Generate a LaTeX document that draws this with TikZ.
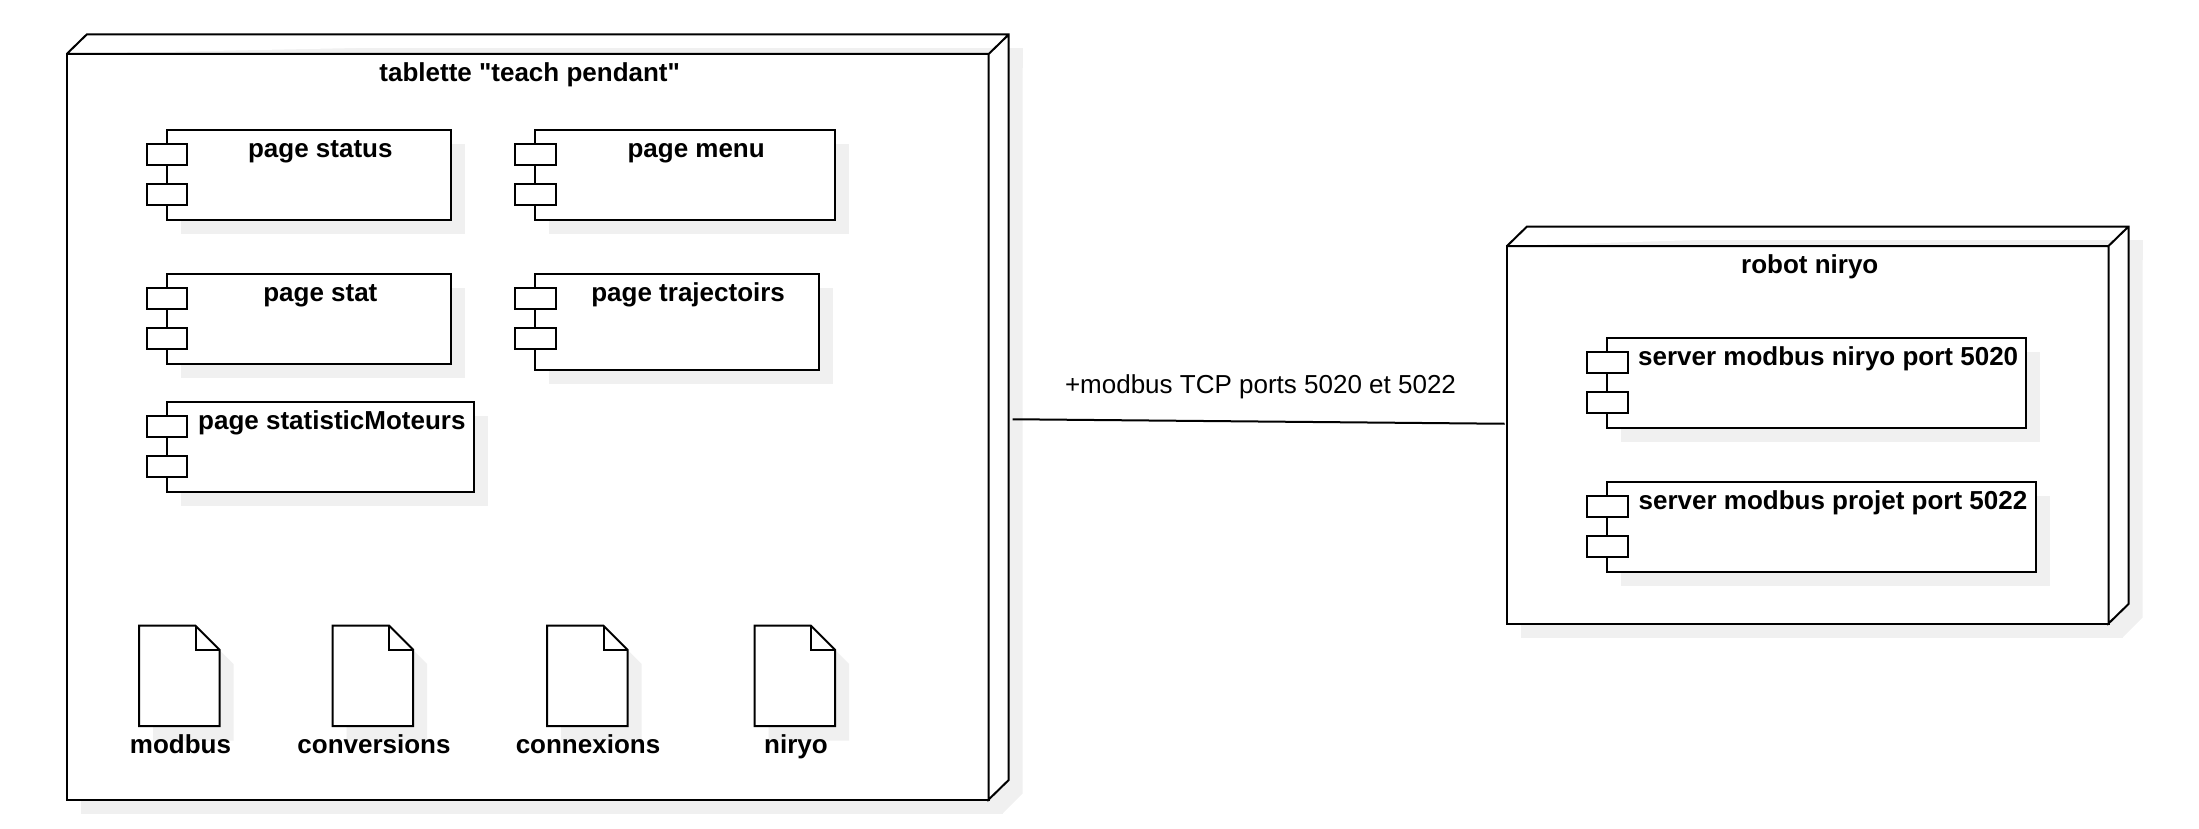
\documentclass[tikz,border=0pt]{standalone}
\usepackage{fontspec}
\setmainfont{Liberation Sans}[Ligatures=TeXOff]
\usetikzlibrary{calc}

\definecolor{shadowgray}{HTML}{F0F0F0}
\tikzset{
  umlline/.style={line width=1pt, draw=black},
  umlbox/.style={umlline, fill=white, rectangle, inner sep=0pt, outer sep=0pt, anchor=north west},
  portbox/.style={umlbox, minimum width=40.5*0.5pt, minimum height=21*0.5pt},
  shadowfill/.style={fill=shadowgray, draw=none},
  titletext/.style={font=\fontsize{13}{15}\selectfont\bfseries, inner sep=0pt, anchor=base},
  linktext/.style={font=\fontsize{13}{15}\selectfont, inner sep=0pt, anchor=base},
}
% name, left, top, width, height, text
\newcommand{\devicebox}[6]{
  \fill[shadowfill] (#2+14,#3+14) rectangle ++(#4,#5);
  \fill[shadowfill] (#2+#4+14,#3+14) -- ++(20,-20) -- ++(0,#5) -- ++(-20,20) -- cycle;
  \fill[shadowfill] (#2+34,#3-6) rectangle ++(#4,20);
  \node[umlbox, minimum width=#4*0.5pt, minimum height=#5*0.5pt] (#1) at (#2,#3) {};
  \draw[umlline, fill=white] (#1.north west) -- ++(20,-19.5) -- ++(#4,0) -- ++(0,#5)
    -- (#1.south east) -- (#1.north east) -- ++(20,-19.5) (#1.north east) -- (#1.north west);
  \node[titletext] (#1-title) at ({#2+#4/2+2},#3+27.5) {#6};
}
% name, left, top, width, height, text
\newcommand{\compbox}[6]{
  \fill[shadowfill] (#2+14,#3+14) rectangle ++(#4,#5);
  \node[umlbox, minimum width=#4*0.5pt, minimum height=#5*0.5pt] (#1) at (#2,#3) {};
  \node[portbox] (#1-porta) at (#2-20,#3+14) {};
  \node[portbox] (#1-portb) at (#2-20,#3+54) {};
  \node[titletext] (#1-title) at ({#2+21.4+(#4-20)/2},#3+27.5) {#6};
}
% name, left, text, text centre
\newcommand{\filebox}[4]{
  \fill[shadowfill] (#2+14,640) -- ++(56.5,0) -- ++(24,24) -- ++(0,76.5) -- ++(-80.5,0) -- cycle;
  \draw[umlline, fill=white] (#2,625.7) -- ++(56.5,0) -- ++(24,24) -- ++(0,76.5) -- ++(-80.5,0) -- cycle;
  \draw[umlline] (#2+56.5,625.7) -- ++(0,24) -- ++(24,0);
  \node[titletext] (#1) at (#4,753) {#3};
}

\begin{document}
\begin{tikzpicture}[x=0.5pt, y=-0.5pt]
  \useasboundingbox (0,0) rectangle (2199,829);
  % tablette and what it holds
  \devicebox{tablette}{66.7}{54}{922}{745.5}{tablette "teach pendant"}
  \compbox{status}{166.7}{130}{284.5}{90}{page status}
  \compbox{menu}{535}{130}{299.5}{90}{page menu}
  \compbox{stat}{166.7}{273.5}{284.5}{90}{page stat}
  \compbox{traj}{535}{273.5}{283.5}{96.5}{page trajectoirs}
  \compbox{moteurs}{166.7}{401.5}{307.5}{90}{page statisticMoteurs}
  \filebox{modbus}{139}{modbus}{180.5}
  \filebox{conversions}{332.7}{conversions}{374}
  \filebox{connexions}{547}{connexions}{588}
  \filebox{niryo}{754.5}{niryo}{796}
  % robot
  \devicebox{robot}{1507}{246}{601.5}{377.5}{robot niryo}
  \compbox{servera}{1607.3}{337.5}{419}{90.5}{server modbus niryo port 5020}
  \compbox{serverb}{1607.3}{481.5}{428.5}{90.5}{server modbus projet port 5022}
  % link between both
  \coordinate (tabletteport) at ($(tablette.east)+(24,-7.5)$);
  \coordinate (robotport) at ($(robot.west)+(-2.5,-11)$);
  \draw[umlline] (tabletteport) -- (robotport);
  \node[linktext] (linklabel) at (1260.5,393) {+modbus TCP ports 5020 et 5022};
\end{tikzpicture}
\end{document}
